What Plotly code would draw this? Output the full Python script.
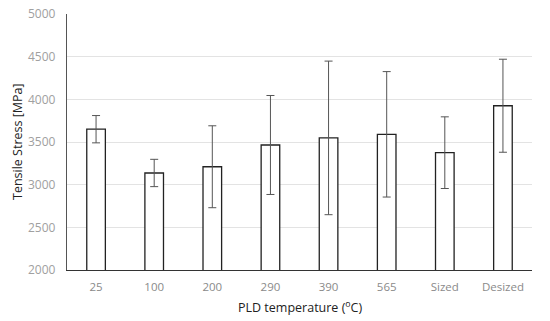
import plotly.graph_objects as go

categories = ["25", "100", "200", "290", "390", "565", "Sized", "Desized"]
stress = [3650, 3137, 3210, 3465, 3548, 3590, 3375, 3925]
stress_err = [160, 160, 480, 580, 900, 735, 420, 545]
y_ticks = [2000, 2500, 3000, 3500, 4000, 4500, 5000]

fig = go.Figure()
fig.add_trace(go.Bar(
    x=categories, y=stress,
    width=0.32,
    marker=dict(color="white", line=dict(color="#222222", width=1.3)),
    error_y=dict(type="data", array=stress_err, visible=True,
                 color="#555555", thickness=1, width=4),
))

font = "Open Sans"
fig.update_layout(
    width=550, height=321,
    margin=dict(l=67, r=18, t=14, b=51),
    plot_bgcolor="white", paper_bgcolor="white",
    showlegend=False,
    font=dict(family=font),
    xaxis=dict(
        automargin=False,
        tickfont=dict(size=11.5, color="#8a8a8a"),
        ticklabelstandoff=6,
        showline=True, linecolor="#333333", linewidth=1.3,
        showgrid=False, ticks="",
    ),
    yaxis=dict(
        automargin=False,
        range=[2000, 5000], tickvals=y_ticks,
        tickfont=dict(size=12, color="#a0a0a0"),
        ticklabelstandoff=8,
        showline=True, linecolor="#555555", linewidth=1.3,
        showgrid=True, gridcolor="#e3e3e3", gridwidth=1,
        zeroline=False, ticks="",
    ),
    annotations=[
        dict(text="PLD temperature (<sup>o</sup>C)", xref="paper", yref="paper",
             x=0.5, y=0, yshift=-37, showarrow=False, yanchor="middle",
             font=dict(size=12.5, color="#222222")),
        dict(text="Tensile Stress [MPa]", xref="paper", yref="paper",
             x=0, xshift=-50, y=0.5, textangle=-90, showarrow=False,
             xanchor="center", yanchor="middle",
             font=dict(size=12.5, color="#222222")),
    ],
)
fig.write_html("out.html", config={"displayModeBar": False},
               post_script="document.body.style.margin='0';document.body.style.overflow='hidden';")
